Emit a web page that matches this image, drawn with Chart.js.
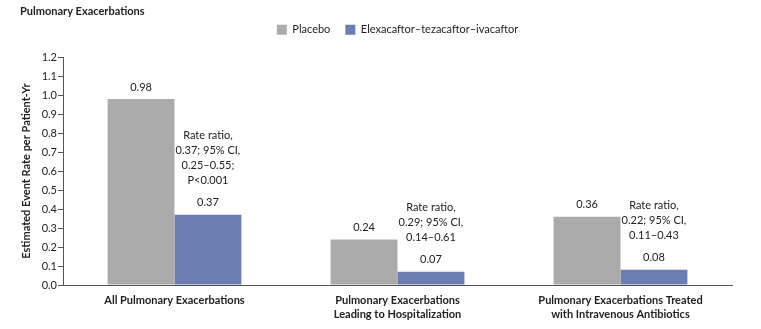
<!DOCTYPE html>
<html>
<head>
<meta charset="utf-8">
<script src="https://cdn.jsdelivr.net/npm/chart.js@4"></script>
<style>
  html, body { margin: 0; padding: 0; background: #fff; }
  #wrap { width: 761px; height: 329px; }
</style>
</head>
<body>
<div id="wrap"><canvas id="pexChart" width="761" height="329"></canvas></div>
<script>
// ---- data ----
const categories = [
  ['All Pulmonary Exacerbations'],
  ['Pulmonary Exacerbations', 'Leading to Hospitalization'],
  ['Pulmonary Exacerbations Treated', 'with Intravenous Antibiotics']
];
const placeboRates = [0.98, 0.24, 0.36];
const etiRates = [0.37, 0.07, 0.08];
const rateNotes = [
  ['Rate ratio,', '0.37; 95% CI,', '0.25\u20130.55;', 'P<0.001'],
  ['Rate ratio,', '0.29; 95% CI,', '0.14\u20130.61'],
  ['Rate ratio,', '0.22; 95% CI,', '0.11\u20130.43']
];
const seriesNames = ['Placebo', 'Elexacaftor\u2013tezacaftor\u2013ivacaftor'];
const yMin = 0, yMax = 1.2, yStep = 0.1;

const FONT = "Lato, sans-serif";
const TXT = '#222';

// draws the numbers over the bars and the rate ratio notes
const barNotes = {
  id: 'barNotes',
  afterDatasetsDraw(chart) {
    const ctx = chart.ctx;
    ctx.save();
    ctx.fillStyle = TXT;
    ctx.font = '11px ' + FONT;
    ctx.textAlign = 'center';
    ctx.textBaseline = 'middle';
    chart.data.datasets.forEach((ds, i) => {
      chart.getDatasetMeta(i).data.forEach((bar, j) => {
        ctx.fillText(ds.data[j].toFixed(2), bar.x, bar.y - 12);
        if (i === 1) {
          const lines = rateNotes[j];
          const lastY = bar.y - 34;
          lines.forEach((ln, k) => {
            ctx.fillText(ln, bar.x, lastY - (lines.length - 1 - k) * 15);
          });
        }
      });
    });
    ctx.restore();
  }
};

// extra room under the legend
const legendGap = {
  id: 'legendGap',
  beforeInit(chart) {
    const fit = chart.legend.fit;
    chart.legend.fit = function () {
      fit.bind(chart.legend)();
      this.height += 12;
    };
  }
};

new Chart(document.getElementById('pexChart'), {
  type: 'bar',
  data: {
    labels: categories,
    datasets: [
      { label: seriesNames[0], data: placeboRates, backgroundColor: '#ababab' },
      { label: seriesNames[1], data: etiRates, backgroundColor: '#6b7db3' }
    ]
  },
  options: {
    responsive: false,
    animation: false,
    layout: { padding: { left: 20, right: 29, top: 0, bottom: 4 } },
    datasets: { bar: { categoryPercentage: 0.6, barPercentage: 1.0 } },
    scales: {
      x: {
        grid: { display: false },
        border: { display: true, color: '#555', width: 1 },
        ticks: { color: TXT, font: { family: FONT, size: 11, weight: 'bold', lineHeight: 1.25 }, padding: 1, maxRotation: 0 },
        afterFit: s => { s.height = 40; }
      },
      y: {
        min: yMin, max: yMax,
        grid: { drawOnChartArea: false, drawTicks: true, tickLength: 5, color: '#555' },
        border: { display: true, color: '#555', width: 1 },
        ticks: {
          stepSize: yStep, color: TXT, padding: 1,
          font: { family: FONT, size: 11 },
          callback: v => Number(v).toFixed(1)
        },
        title: {
          display: true, text: 'Estimated Event Rate per Patient-Yr', color: TXT,
          font: { family: FONT, size: 11, weight: 'bold' }, padding: { top: 0, bottom: 4 }
        },
        afterFit: s => { s.width = 43; }
      }
    },
    plugins: {
      title: {
        display: true, text: 'Pulmonary Exacerbations', align: 'start', color: TXT,
        font: { family: FONT, size: 11, weight: 'bold' }, padding: { top: 5, bottom: -9 }
      },
      legend: {
        fullSize: false,
        labels: { boxWidth: 10, boxHeight: 10, color: TXT, font: { family: FONT, size: 11 }, padding: 15 }
      },
      tooltip: { enabled: false }
    }
  },
  plugins: [barNotes, legendGap]
});
</script>
</body>
</html>
